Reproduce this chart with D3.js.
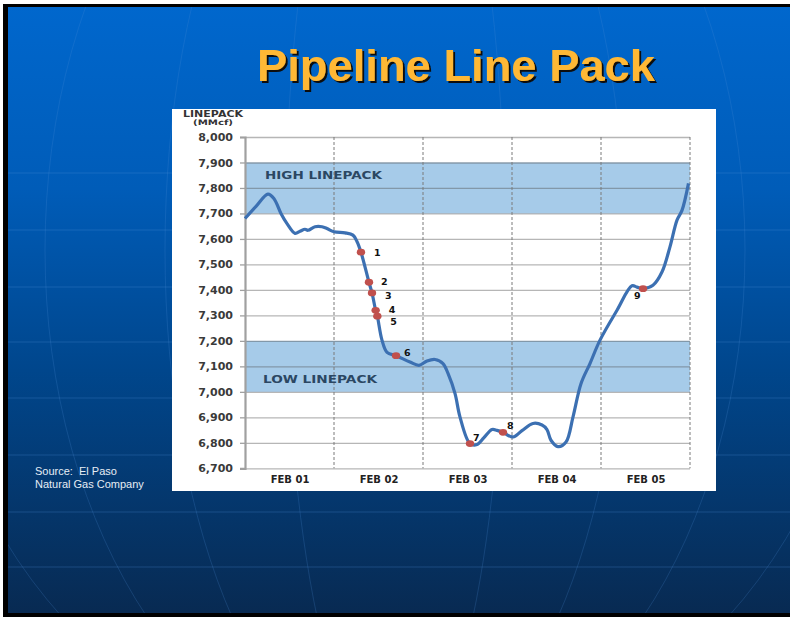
<!DOCTYPE html>
<html><head><meta charset="utf-8">
<script src="https://cdn.jsdelivr.net/npm/d3@7"></script>
<style>body{margin:0;background:#fff;} svg{display:block} text{white-space:pre}</style>
</head><body><svg id="c" width="790" height="617"></svg>
<script>
// ---- data ----
const days = [0.000,0.124,0.258,0.326,0.404,0.472,0.562,0.618,0.674,0.708,0.787,0.865,0.921,1.000,1.124,1.213,1.258,1.303,1.393,1.427,1.468,1.487,1.539,1.596,1.697,1.854,1.955,2.045,2.135,2.225,2.281,2.360,2.416,2.528,2.607,2.685,2.775,2.831,2.899,3.011,3.112,3.236,3.337,3.393,3.438,3.517,3.607,3.685,3.775,3.876,3.989,4.180,4.348,4.404,4.472,4.584,4.685,4.775,4.854,4.910,4.983];
const linepack = [7680,7728,7776,7758,7700,7660,7622,7630,7638,7634,7648,7648,7641,7628,7624,7615,7590,7548,7430,7388,7320,7297,7203,7155,7142,7117,7104,7121,7127,7111,7072,6993,6901,6797,6793,6820,6852,6849,6841,6823,6848,6876,6870,6852,6810,6785,6803,6901,7032,7111,7203,7320,7416,7411,7405,7418,7470,7569,7674,7712,7818];
const markerDays = [1.303,1.393,1.427,1.468,1.487,1.697,2.528,2.899,4.472];
const markerValues = [7548,7430,7388,7320,7297,7142,6797,6841,7405];
const markerLabels = ["1","2","3","4","5","6","7","8","9"];
const dayLabels = ["FEB 01","FEB 02","FEB 03","FEB 04","FEB 05"];
const yTicks = [6700,6800,6900,7000,7100,7200,7300,7400,7500,7600,7700,7800,7900,8000];
const bandNames = ["HIGH LINEPACK","LOW LINEPACK"];
const bandLow = [7700,7000];
const bandHigh = [7900,7200];

// ---- styling / layout ----
const labelOffsets = [[13,4],[12,3],[13,6],[13,3],[13,9],[8,0],[3,-3],[4,-3],[-9,10]];
const bandLabelX = [265,263];
const bandLabelLevel = [7850,7050];
const svg = d3.select("#c");
const defs = svg.append("defs");
const g1 = defs.append("linearGradient").attr("id","bg").attr("x1",0).attr("y1",0).attr("x2",0).attr("y2",1);
g1.append("stop").attr("offset","0%").attr("stop-color","#0067cd");
g1.append("stop").attr("offset","30%").attr("stop-color","#005cb8");
g1.append("stop").attr("offset","60%").attr("stop-color","#00468c");
g1.append("stop").attr("offset","100%").attr("stop-color","#082a52");
const sh = defs.append("filter").attr("id","shadow").attr("x","-5%").attr("y","-20%").attr("width","110%").attr("height","140%");
sh.append("feDropShadow").attr("dx",2).attr("dy",2).attr("stdDeviation",0.4).attr("flood-color","#111").attr("flood-opacity",1);

svg.append("rect").attr("x",3).attr("y",4).attr("width",787).attr("height",613).attr("fill","#000");
svg.append("rect").attr("x",8).attr("y",7).attr("width",782).attr("height",606).attr("fill","url(#bg)");

// decorative globe lines
const deco = svg.append("g").attr("fill","none").attr("stroke","#4f8fd8").attr("stroke-opacity",0.28).attr("stroke-width",1);
[173,230,287,342,398,455,512,567].forEach(yy=>{
  deco.append("line").attr("x1",8).attr("x2",790).attr("y1",yy).attr("y2",yy);
});
const clip = defs.append("clipPath").attr("id","slide");
clip.append("rect").attr("x",8).attr("y",7).attr("width",782).attr("height",606);
const arcs = svg.append("g").attr("clip-path","url(#slide)").attr("fill","none").attr("stroke","#4f8fd8").attr("stroke-opacity",0.22);
[110,230,350,470,560].forEach(rx=>{
  arcs.append("ellipse").attr("cx",395).attr("cy",250).attr("rx",rx).attr("ry",520);
});

// title
svg.append("text").attr("x",257).attr("y",81).text("Pipeline Line Pack")
  .attr("font-family","Liberation Sans, Arial, sans-serif").attr("font-weight","bold").attr("font-size",45)
  .attr("fill","#ffb835").attr("textLength",398).attr("lengthAdjust","spacingAndGlyphs")
  .attr("filter","url(#shadow)");

// source
const src = svg.append("g").attr("font-family","Liberation Sans, Arial, sans-serif").attr("font-size",11).attr("fill","#e6edf5");
src.append("text").attr("x",35).attr("y",475).text("Source:  El Paso");
src.append("text").attr("x",35).attr("y",488).text("Natural Gas Company");

// chart panel
svg.append("rect").attr("x",172).attr("y",109).attr("width",544).attr("height",382).attr("fill","#fff");

const x = d3.scaleLinear().domain([0,5]).range([245,690]);
const y = d3.scaleLinear().domain([6700,8000]).range([468.3,137]);
const font = "DejaVu Sans, Verdana, sans-serif";

// bands
const bandG = svg.append("g");
bandNames.forEach((n,i)=>{
  bandG.append("rect").attr("x",x(0)).attr("y",y(bandHigh[i])).attr("width",x(5)-x(0))
    .attr("height",y(bandLow[i])-y(bandHigh[i])).attr("fill","#a6cbe9");
});

// grid
const grid = svg.append("g").attr("transform",`translate(${x(0)},0)`)
  .call(d3.axisLeft(y).tickValues(yTicks).tickSize(-(x(5)-x(0))).tickFormat(""));
grid.select(".domain").remove();
grid.selectAll("line").attr("stroke","#505050").attr("stroke-opacity",0.42).attr("stroke-width",1.3);

// dashed verticals
svg.append("g").selectAll("line").data([1,2,3,4,5]).join("line")
  .attr("x1",d=>x(d)).attr("x2",d=>x(d)).attr("y1",y(8000)).attr("y2",y(6700))
  .attr("stroke","#7a7a7a").attr("stroke-width",1).attr("stroke-dasharray","3,2");

// y axis
const ya = svg.append("g").attr("transform",`translate(${x(0)},0)`)
  .call(d3.axisLeft(y).tickValues(yTicks).tickFormat(d3.format(",")).tickSize(5).tickPadding(7));
ya.select(".domain").attr("stroke","#a0a0a0").attr("stroke-width",2.2);
ya.selectAll(".tick line").attr("stroke","#a0a0a0").attr("stroke-width",1.3);
ya.selectAll(".tick text").attr("font-family",font).attr("font-weight","bold").attr("font-size",11).attr("fill","#3a3a3a");

// x axis labels
const xa = svg.append("g").attr("transform",`translate(0,${y(6700)})`)
  .call(d3.axisBottom(x).tickValues([0.5,1.5,2.5,3.5,4.5]).tickFormat((d,i)=>dayLabels[i]).tickSize(0).tickPadding(8));
xa.select(".domain").remove();
xa.selectAll(".tick text").attr("font-family",font).attr("font-weight","bold").attr("font-size",10).attr("fill","#222");

// axis title
svg.append("text").attr("x",183).attr("y",117).text("LINEPACK").attr("font-family",font).attr("font-weight","bold")
  .attr("font-size",8).attr("fill","#333").attr("textLength",60).attr("lengthAdjust","spacingAndGlyphs");
svg.append("text").attr("x",193).attr("y",124.5).text("(MMcf)").attr("font-family",font).attr("font-weight","bold")
  .attr("font-size",7.5).attr("fill","#333").attr("textLength",40).attr("lengthAdjust","spacingAndGlyphs");

// band labels
bandNames.forEach((n,i)=>{
  svg.append("text").attr("x",bandLabelX[i]).attr("y",y(bandLabelLevel[i])+4)
    .text(n).attr("font-family",font).attr("font-weight","bold").attr("font-size",11).attr("fill","#2b4763")
    .attr("textLength",i===0?117:114).attr("lengthAdjust","spacingAndGlyphs");
});

// line
const pts = days.map((d,i)=>[d,linepack[i]]);
svg.append("path").datum(pts)
  .attr("d",d3.line().x(d=>x(d[0])).y(d=>y(d[1])).curve(d3.curveCatmullRom.alpha(0.5)))
  .attr("fill","none").attr("stroke","#3c70b2").attr("stroke-width",3.2).attr("stroke-linejoin","round");

// markers
const mk = markerDays.map((d,i)=>({d, v:markerValues[i], l:markerLabels[i], o:labelOffsets[i]}));
svg.append("g").selectAll("ellipse").data(mk).join("ellipse")
  .attr("cx",m=>x(m.d)).attr("cy",m=>y(m.v)).attr("rx",4.2).attr("ry",3.4).attr("fill","#c0504d");
svg.append("g").selectAll("text").data(mk).join("text")
  .attr("x",m=>x(m.d)+m.o[0]).attr("y",m=>y(m.v)+m.o[1]).text(m=>m.l)
  .attr("font-family",font).attr("font-weight","bold").attr("font-size",9.5).attr("fill","#111");
</script></body></html>
